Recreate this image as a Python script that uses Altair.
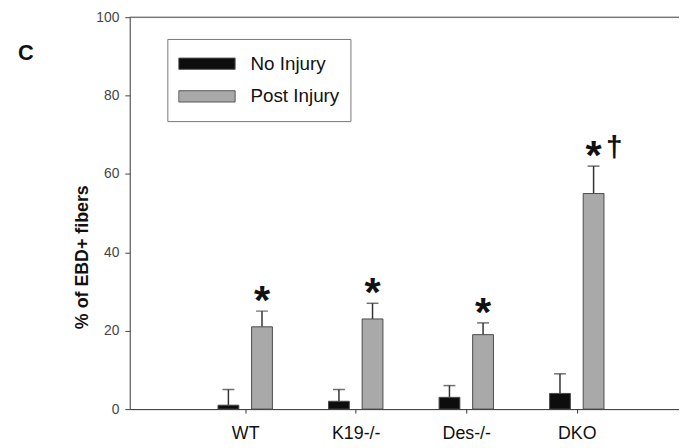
import altair as alt
import pandas as pd

groups = ["WT", "K19-/-", "Des-/-", "DKO"]
conditions = ["No Injury", "Post Injury"]
no_injury = [1, 2, 3, 4]
no_injury_err = [4, 3, 3, 5]
post_injury = [21, 23, 19, 55]
post_injury_err = [4, 4, 3, 7]
stars = ["*", "*", "*", "*"]
daggers = ["", "", "", "†"]

rows = []
for i, g in enumerate(groups):
    rows.append({"group": g, "idx": i + 1, "cond": conditions[0], "side": -1,
                 "value": no_injury[i], "err": no_injury_err[i], "star": "", "dagger": ""})
    rows.append({"group": g, "idx": i + 1, "cond": conditions[1], "side": 1,
                 "value": post_injury[i], "err": post_injury_err[i],
                 "star": stars[i], "dagger": daggers[i]})
df = pd.DataFrame(rows)

FONT = "Liberation Sans"

base = alt.Chart(df).transform_calculate(
    pos="datum.idx + datum.side * 0.152",
    top="datum.value + datum.err",
)

xscale = alt.Scale(domain=[0, 4.88], nice=False, zero=False)
yscale = alt.Scale(domain=[0, 100], nice=False)

label_expr = "datum.value == 1 ? 'WT' : datum.value == 2 ? 'K19-/-' : datum.value == 3 ? 'Des-/-' : 'DKO'"

x_enc = alt.X("pos:Q", scale=xscale, axis=alt.Axis(
    values=[1, 2, 3, 4], labelExpr=label_expr, title=None, grid=False,
    tickSize=4, tickColor="#333", domainColor="#333", labelFontSize=18,
    labelFont=FONT, labelColor="#111", labelPadding=12, labelFontWeight="normal"))

y_enc = alt.Y("value:Q", scale=yscale, axis=alt.Axis(
    values=[0, 20, 40, 60, 80, 100], title="% of EBD+ fibers", grid=False,
    tickSize=5, tickColor="#444", domainColor="#444", labelFontSize=14,
    labelFont=FONT, labelColor="#444", labelPadding=6,
    titleFont=FONT, titleFontSize=18, titleFontWeight="bold", titleColor="#111",
    titleAngle=-90, titleX=-48, titleY=242, titleAlign="center", titleBaseline="middle"))

err_rule = base.mark_rule(color="#333", strokeWidth=1.5).encode(
    x=alt.X("pos:Q", scale=xscale), y=alt.Y("value:Q", scale=yscale),
    y2="top:Q")
err_cap = base.mark_tick(color="#333", orient="horizontal", size=12, thickness=1.5).encode(
    x=alt.X("pos:Q", scale=xscale), y=alt.Y("top:Q", scale=yscale))

bars = base.mark_bar(size=21, stroke="#4a4a4a", strokeWidth=1).encode(
    x=x_enc, y=y_enc,
    color=alt.Color("cond:N", scale=alt.Scale(domain=conditions, range=["#0d0d0d", "#a9a9a9"]),
                    legend=alt.Legend(title=None, orient="none", legendX=38, legendY=22,
                                      strokeColor="#777", fillColor="white", padding=11,
                                      symbolType="M-1,-0.2H1V0.2H-1Z", symbolSize=3249,
                                      symbolStrokeColor="#555", symbolStrokeWidth=1,
                                      labelFont=FONT, labelFontSize=19, labelColor="#111",
                                      labelOffset=15, rowPadding=5, clipHeight=28)),
)

star_text = base.mark_text(font=FONT, fontSize=42, fontWeight="bold", color="#111",
                           baseline="alphabetic", align="center", dy=3).encode(
    x=alt.X("pos:Q", scale=xscale), y=alt.Y("top:Q", scale=yscale), text="star:N")
dagger_text = base.mark_text(font=FONT, fontSize=30, fontWeight="bold", color="#111",
                             baseline="alphabetic", align="center", dx=21, dy=-9).encode(
    x=alt.X("pos:Q", scale=xscale), y=alt.Y("top:Q", scale=yscale), text="dagger:N")

top_line = alt.Chart(pd.DataFrame({"v": [100]})).mark_rule(color="#444", strokeWidth=1).encode(
    y=alt.Y("v:Q", scale=yscale))

panel = alt.Chart(pd.DataFrame({"t": ["C"]})).mark_text(
    font=FONT, fontSize=22, fontWeight="bold", color="#111", align="center", baseline="middle"
).encode(x=alt.value(-105), y=alt.value(36), text="t:N")

chart = alt.layer(top_line, err_rule, err_cap, bars, star_text, dagger_text, panel).properties(
    width=555, height=396, autosize="none",
    padding={"left": 123, "top": 7, "right": 0, "bottom": 36},
).configure_view(stroke=None).configure(background="white")

chart.save("out.html", embed_options={"renderer": "svg", "actions": False})
